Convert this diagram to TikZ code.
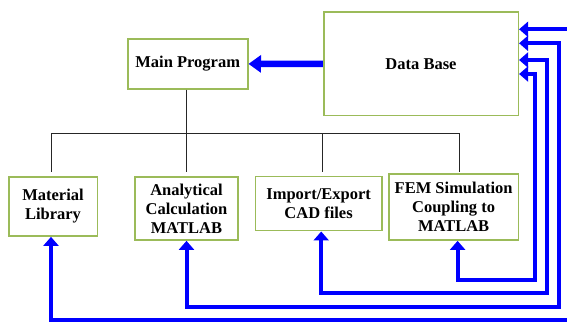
\documentclass[tikz,border=0pt]{standalone}
\usepackage{fontspec}
\setmainfont{Liberation Serif}
\usepackage{xcolor}
\usetikzlibrary{arrows.meta,positioning}
\definecolor{boxgreen}{RGB}{155,187,89}
\definecolor{linkblue}{RGB}{0,0,255}

\begin{document}
\begin{tikzpicture}[x=1pt,y=1pt,
    box/.style={draw=boxgreen,line width=1.6pt,fill=white,align=center,
        font=\fontsize{16.5}{19}\selectfont\bfseries,inner sep=2pt},
    tree/.style={black!85,line width=0.8pt},
    feed/.style={linkblue,line width=4pt,
        {Triangle[length=9pt,width=15pt]}-{Triangle[length=9pt,width=15pt]}},
    bigfeed/.style={linkblue,line width=6.5pt,-{Triangle[length=12.5pt,width=17pt]}}]
\useasboundingbox (0,0) rectangle (567,323);

% Boxes
\node[box,minimum width=120pt,minimum height=49.7pt] (main) at (187.7,259.1) {Main Program};
\node[box,minimum width=194.6pt,minimum height=103.4pt] (db) at (421,259) {Data Base};
\node[box,minimum width=88.6pt,minimum height=59.3pt] (mat) at (53,116.6) {Material\\Library};
\node[box,minimum width=103pt,minimum height=63.3pt] (ana) at (186.5,114.6) {Analytical\\Calculation\\MATLAB};
\node[box,minimum width=126.6pt,minimum height=54pt] (imp) at (318.6,119.3) {Import/Export\\CAD files};
\node[box,minimum width=129.5pt,minimum height=66.3pt] (fem) at (453.6,116.1) {FEM Simulation\\Coupling to\\MATLAB};

% Tree from main program
\coordinate (tm) at (51,151.3);
\coordinate (ta) at (186.6,151.3);
\coordinate (ti) at (321.9,151.3);
\coordinate (tf) at (459,151.3);
\draw[tree] (main.south -| ta) -- (ta);
\draw[tree] (tm) -- ++(0,38.4) -| (tf);
\draw[tree] (ti) -- ++(0,38.4);

% Data base to main program
\draw[bigfeed] (db.west) -- (main.east);

% Feedback loops
\coordinate (cf) at (535,43);
\coordinate (ci) at (546.5,29.7);
\coordinate (ca) at (558.5,16.3);
\coordinate (cm) at (572,3);
\draw[feed] ([yshift=-10pt]db.east) -| (cf) -| ([xshift=4pt]fem.south);
\draw[feed] ([yshift=4pt]db.east) -| (ci) -| ([xshift=2.6pt]imp.south);
\draw[feed] ([yshift=20.7pt]db.east) -| (ca) -| (ana.south);
\draw[feed] ([yshift=34.7pt]db.east) -| (cm) -| ([xshift=-2pt]mat.south);

\end{tikzpicture}
\end{document}
